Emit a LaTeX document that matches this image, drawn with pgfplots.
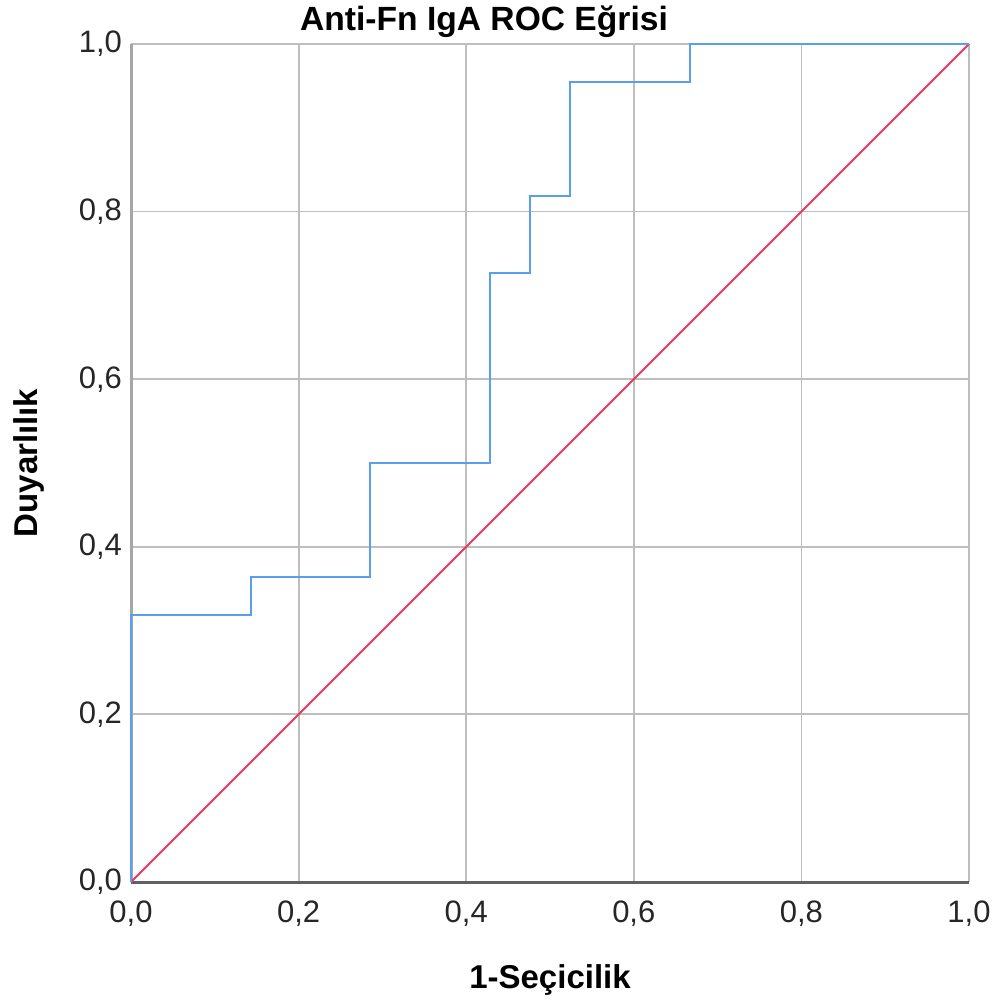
\documentclass[border=0pt]{standalone}
\usepackage{pgfplots}
\pgfplotsset{compat=1.18}
\usepackage{fontspec}
\setmainfont{Liberation Sans}
\definecolor{roc}{RGB}{90,158,240}
\definecolor{refl}{RGB}{232,58,95}
\definecolor{gridc}{RGB}{190,190,190}
\begin{document}
\begin{tikzpicture}
\path[use as bounding box] (-65.5pt,-61pt) rectangle (432pt,441pt);
\begin{axis}[
  at={(0,0)}, anchor=origin,
  scale only axis, width=419pt, height=419pt,
  xmin=0, xmax=1, ymin=0, ymax=1,
  xtick={0,0.2,...,1.0}, ytick={0,0.2,...,1.0},
  /pgf/number format/assume math mode=true,
  /pgf/number format/use comma,
  /pgf/number format/fixed,
  /pgf/number format/fixed zerofill,
  /pgf/number format/precision=1,
  tick label style={font=\fontsize{15.5}{18}\selectfont, text=black!85},
  major tick length=0pt,
  xticklabel style={yshift=-6pt},
  yticklabel style={xshift=-1pt},
  grid=major,
  major grid style={draw=gridc, line width=0.9pt},
  axis line style={draw=none},
  every axis title shift=0pt,
  title={\bfseries Anti-Fn IgA ROC Eğrisi},
  title style={font=\fontsize{16.8}{19}\selectfont, at={(0.5,1)}, anchor=center, yshift=11pt, xshift=-33pt},
  xlabel={\bfseries 1-Seçicilik},
  ylabel={\bfseries Duyarlılık},
  every axis x label/.style={at={(rel axis cs:0.5,0)}, anchor=center, yshift=-49pt, font=\fontsize{16.5}{19}\selectfont},
  every axis y label/.style={at={(rel axis cs:0,0.5)}, xshift=-51pt, rotate=90, anchor=center, font=\fontsize{16.5}{19}\selectfont},
  clip=false,
]
\draw[draw=black!35, line width=1.5pt] (rel axis cs:0,0) -- (rel axis cs:0,1);
\draw[draw=black!62, line width=1.5pt] (rel axis cs:0,0) -- (rel axis cs:1,0);
\addplot[refl, line width=1pt] coordinates {(0,0) (1,1)};
\addplot[roc, line width=1pt] coordinates {
 (0,0) (0,0.3182) (0.1429,0.3182) (0.1429,0.3636) (0.2857,0.3636) (0.2857,0.5)
 (0.4286,0.5) (0.4286,0.7273) (0.4762,0.7273) (0.4762,0.8182) (0.5238,0.8182)
 (0.5238,0.9545) (0.6667,0.9545) (0.6667,1) (1,1)};
\end{axis}
\end{tikzpicture}
\end{document}
